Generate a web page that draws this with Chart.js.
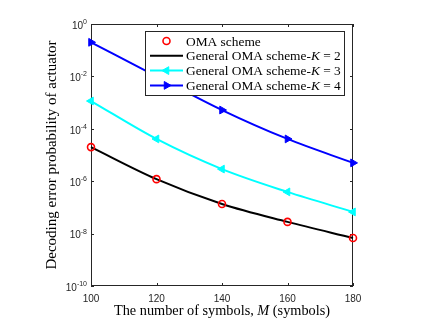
<!DOCTYPE html>
<html>
<head>
<meta charset="utf-8">
<script src="https://cdn.jsdelivr.net/npm/chart.js@4.4.1/dist/chart.umd.min.js"></script>
<style>
  html, body { margin: 0; padding: 0; background: #fff; }
  #wrap { width: 429px; height: 323px; }
</style>
</head>
<body>
<div id="wrap"><canvas id="chart" width="429" height="323"></canvas></div>
<script>
// values (log scale)
const symbols = [100, 120, 140, 160, 180];
const omaScheme = [2.0e-5, 1.2e-6, 1.35e-7, 2.8e-8, 6.8e-9];
const generalK2 = [2.0e-5, 1.2e-6, 1.35e-7, 2.8e-8, 6.8e-9];
const generalK3 = [1.15e-3, 4.1e-5, 2.9e-6, 3.9e-7, 6.7e-8];
const generalK4 = [0.2, 1.0e-2, 5.2e-4, 4.1e-5, 5.0e-6];
const xTicks = [100, 120, 140, 160, 180];
const yTicks = [1e-10, 1e-8, 1e-6, 1e-4, 1e-2, 1];
const yExponents = ['-10', '-8', '-6', '-4', '-2', '0'];
const seriesLabels = ['OMA scheme', 'General OMA scheme-K = 2', 'General OMA scheme-K = 3', 'General OMA scheme-K = 4'];
const xTitle = ['The number of symbols, ', 'M', ' (symbols)'];
const yTitle = 'Decoding error probability of actuator';

const AXIS = '#262626';
const SERIF = '"Liberation Serif", "DejaVu Serif", serif';
const SANS = '"Liberation Sans", Arial, sans-serif';

function pts(ys) {
  return symbols.map((x, i) => ({ x: x, y: ys[i] }));
}

// draws text pieces one after another, italic where asked
function drawMixed(ctx, parts, x, y, size) {
  let cx = x;
  parts.forEach(p => {
    ctx.font = (p.italic ? 'italic ' : '') + size + 'px ' + SERIF;
    ctx.fillText(p.text, cx, y);
    cx += ctx.measureText(p.text).width;
  });
  return cx - x;
}

function mixedWidth(ctx, parts, size) {
  let w = 0;
  parts.forEach(p => {
    ctx.font = (p.italic ? 'italic ' : '') + size + 'px ' + SERIF;
    w += ctx.measureText(p.text).width;
  });
  return w;
}

function labelParts(label) {
  const i = label.indexOf('-K');
  if (i < 0) return [{ text: label }];
  return [{ text: label.slice(0, i + 1) }, { text: 'K', italic: true }, { text: label.slice(i + 2) }];
}

const axesFrame = {
  id: 'axesFrame',
  beforeDatasetsDraw(chart) {
    const { ctx, chartArea: a, scales: { x, y } } = chart;
    ctx.save();
    ctx.strokeStyle = AXIS;
    ctx.lineWidth = 1;
    ctx.strokeRect(a.left + 0.5, a.top + 0.5, a.right - a.left - 1, a.bottom - a.top - 1);

    ctx.beginPath();
    xTicks.forEach(v => {
      const px = Math.round(x.getPixelForValue(v)) + 0.5;
      ctx.moveTo(px, a.bottom); ctx.lineTo(px, a.bottom - 3);
      ctx.moveTo(px, a.top); ctx.lineTo(px, a.top + 3);
    });
    yTicks.forEach(v => {
      const py = Math.round(y.getPixelForValue(v)) + 0.5;
      ctx.moveTo(a.left, py); ctx.lineTo(a.left + 3, py);
      ctx.moveTo(a.right, py); ctx.lineTo(a.right - 3, py);
    });
    ctx.stroke();

    // tick labels
    ctx.fillStyle = AXIS;
    ctx.textBaseline = 'middle';
    ctx.textAlign = 'center';
    ctx.font = '10px ' + SANS;
    xTicks.forEach(v => ctx.fillText(String(v), x.getPixelForValue(v), a.bottom + 13));

    ctx.textAlign = 'left';
    yTicks.forEach((v, i) => {
      const py = y.getPixelForValue(v);
      ctx.font = '7px ' + SANS;
      const we = ctx.measureText(yExponents[i]).width;
      ctx.font = '10px ' + SANS;
      const wb = ctx.measureText('10').width;
      const right = a.left - 4;
      ctx.fillText('10', right - we - wb, py + 2);
      ctx.font = '7px ' + SANS;
      ctx.fillText(yExponents[i], right - we, py - 2);
    });

    // axis titles
    ctx.fillStyle = '#000';
    ctx.textBaseline = 'middle';
    const parts = [{ text: xTitle[0] }, { text: xTitle[1], italic: true }, { text: xTitle[2] }];
    const w = mixedWidth(ctx, parts, 14.3);
    drawMixed(ctx, parts, (a.left + a.right) / 2 - w / 2, a.bottom + 25, 14.3);

    ctx.translate(52, (a.top + a.bottom) / 2);
    ctx.rotate(-Math.PI / 2);
    ctx.textAlign = 'center';
    ctx.font = '15px ' + SERIF;
    ctx.fillText(yTitle, 0, 0);
    ctx.restore();
  }
};

const boxLegend = {
  id: 'boxLegend',
  afterDraw(chart) {
    const ctx = chart.ctx;
    const left = 145, top = 31, width = 199, height = 64;
    ctx.save();
    ctx.fillStyle = '#fff';
    ctx.fillRect(left, top, width, height);
    ctx.strokeStyle = AXIS;
    ctx.lineWidth = 1;
    ctx.strokeRect(left + 0.5, top + 0.5, width, height);
    chart.data.datasets.forEach((ds, i) => {
      const cy = top + 10 + i * 14.8;
      const x0 = left + 5, x1 = left + 38, xm = (x0 + x1) / 2;
      if (ds.showLine !== false) {
        ctx.strokeStyle = ds.borderColor;
        ctx.lineWidth = ds.borderWidth;
        ctx.beginPath();
        ctx.moveTo(x0, cy); ctx.lineTo(x1, cy);
        ctx.stroke();
      }
      if (ds.pointRadius > 0) {
        ctx.fillStyle = ds.pointBackgroundColor;
        ctx.strokeStyle = ds.pointBorderColor;
        ctx.lineWidth = ds.pointBorderWidth;
        Chart.helpers.drawPoint(ctx, {
          pointStyle: ds.pointStyle,
          rotation: ds.pointRotation || 0,
          radius: ds.pointRadius,
          borderWidth: ds.pointBorderWidth
        }, xm, cy);
      }
      ctx.fillStyle = '#000';
      ctx.textBaseline = 'middle';
      ctx.textAlign = 'left';
      drawMixed(ctx, labelParts(ds.label), left + 41, cy + 1, 13.4);
    });
    ctx.restore();
  }
};

new Chart(document.getElementById('chart'), {
  type: 'line',
  data: {
    datasets: [
      {
        label: seriesLabels[0], data: pts(omaScheme), showLine: false,
        pointStyle: 'circle', pointRadius: 3.5, pointBorderWidth: 1.6,
        pointBackgroundColor: 'rgba(0,0,0,0)', pointBorderColor: '#ff0000',
        borderColor: '#ff0000', borderWidth: 0, clip: false, order: 0
      },
      {
        label: seriesLabels[1], data: pts(generalK2),
        borderColor: '#000000', borderWidth: 2, pointRadius: 0,
        cubicInterpolationMode: 'monotone', clip: false, order: 1
      },
      {
        label: seriesLabels[2], data: pts(generalK3),
        borderColor: '#00ffff', borderWidth: 2,
        pointStyle: 'triangle', pointRotation: -90, pointRadius: 4.5, pointBorderWidth: 1,
        pointBackgroundColor: '#00ffff', pointBorderColor: '#00ffff',
        cubicInterpolationMode: 'monotone', clip: false, order: 2
      },
      {
        label: seriesLabels[3], data: pts(generalK4),
        borderColor: '#0000ff', borderWidth: 2,
        pointStyle: 'triangle', pointRotation: 90, pointRadius: 4.5, pointBorderWidth: 1,
        pointBackgroundColor: '#0000ff', pointBorderColor: '#0000ff',
        cubicInterpolationMode: 'monotone', clip: false, order: 3
      }
    ]
  },
  options: {
    responsive: false,
    animation: false,
    devicePixelRatio: 1,
    layout: { padding: { left: 0, right: 76, top: 24, bottom: 0 } },
    plugins: { legend: { display: false }, tooltip: { enabled: false } },
    scales: {
      x: {
        type: 'linear', min: 100, max: 180,
        afterBuildTicks: s => { s.ticks = xTicks.map(v => ({ value: v })); },
        afterFit: s => { s.height = 37; },
        ticks: { display: false }, grid: { display: false }, border: { display: false }
      },
      y: {
        type: 'logarithmic', min: 1e-10, max: 1,
        afterBuildTicks: s => { s.ticks = yTicks.map(v => ({ value: v })); },
        afterFit: s => { s.width = 91; },
        ticks: { display: false }, grid: { display: false }, border: { display: false }
      }
    }
  },
  plugins: [axesFrame, boxLegend]
});
</script>
</body>
</html>
